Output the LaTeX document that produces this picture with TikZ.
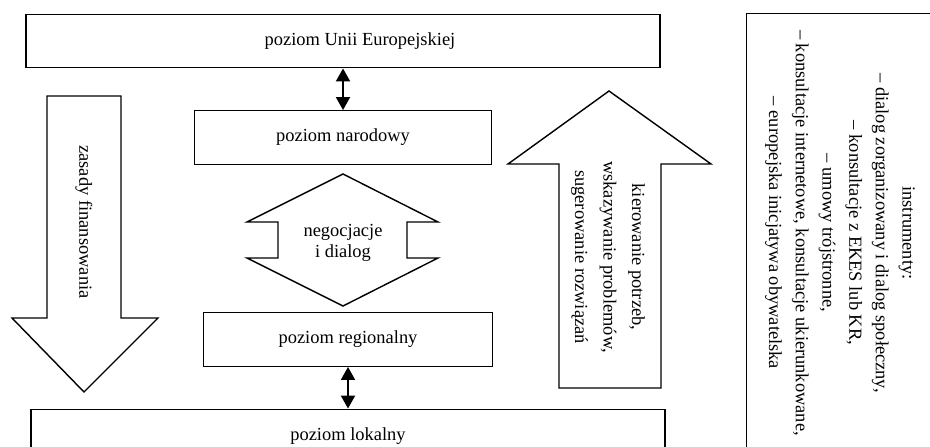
\documentclass[tikz,border=0pt]{standalone}
\usepackage{fontspec}
\setmainfont{Liberation Serif}
\usetikzlibrary{arrows.meta}

\begin{document}
\begin{tikzpicture}[
        level/.style={rectangle, draw, line width=0.8pt, minimum height=1.07cm, font=\fontsize{10.5}{12}\selectfont},
        lbl/.style={font=\fontsize{10.5}{12}\selectfont},
        link/.style={{Triangle[width=0.28cm,length=0.26cm]}-{Triangle[width=0.28cm,length=0.26cm]}, line width=1.1pt},
        blockarrow/.style={draw, line width=0.8pt, line join=miter},
        vtext/.style={rotate=-90, align=center, inner sep=0pt}
    ]
        \useasboundingbox (0,0) rectangle (18.6,8.92);
        \clip (0,0) rectangle (18.6,8.92);

        % Levels
        \node[level, minimum width=12.68cm] (eu) at (6.86,8.10) {};
        \node[lbl] (eutxt) at ([xshift=0.34cm]eu.center) {poziom Unii Europejskiej};
        \node[level, minimum width=5.94cm] (nar) at (6.86,6.17) {poziom narodowy};
        \node[level, minimum width=5.78cm] (reg) at (6.96,2.13) {poziom regionalny};
        \node[level, minimum width=12.68cm] (lok) at (6.96,0.20) {poziom lokalny};

        % Negotiation arrow
        \draw[blockarrow] (6.86,5.44) -- (8.76,4.48) -- (8.14,4.48) -- (8.14,3.76) -- (8.76,3.76)
            -- (6.86,2.80) -- (4.94,3.76) -- (5.56,3.76) -- (5.56,4.48) -- (4.94,4.48) -- cycle;
        \node[lbl, align=center, inner sep=0pt] (neg) at (6.86,4.06) {negocjacje\\i dialog};

        % Down arrow
        \draw[blockarrow] (0.94,7.00) -- (2.42,7.00) -- (2.42,2.56) -- (3.16,2.56) -- (1.68,1.08)
            -- (0.24,2.56) -- (0.94,2.56) -- cycle;
        \node[vtext, font=\fontsize{10.5}{12}\selectfont] (fin) at (1.68,4.48) {zasady finansowania};

        % Up arrow
        \draw[blockarrow] (11.18,1.16) -- (13.22,1.16) -- (13.22,5.64) -- (14.22,5.64) -- (12.18,7.10)
            -- (10.16,5.64) -- (11.18,5.64) -- cycle;
        \node[vtext, font=\fontsize{10.5}{16.2}\selectfont] (kier) at (12.16,3.78)
            {kierowanie potrzeb,\\wskazywanie problemów,\\sugerowanie rozwiązań};

        % Instruments
        \node[draw, line width=0.6pt, anchor=north west, minimum width=5cm, minimum height=10cm, inner sep=0pt] (instbox) at (14.92,8.66) {};
        \node[vtext, font=\fontsize{10.5}{15.2}\selectfont] (instr) at (16.80,4.26)
            {instrumenty:\\
            -- dialog zorganizowany i dialog społeczny,\\
            -- konsultacje z EKES lub KR,\\
            -- umowy trójstronne,\\
            -- konsultacje internetowe, konsultacje ukierunkowane,\\
            -- europejska inicjatywa obywatelska};

        % Links between levels
        \draw[link] (eu) -- (nar);
        \draw[link] (reg) -- (lok);

    \end{tikzpicture}
\end{document}
